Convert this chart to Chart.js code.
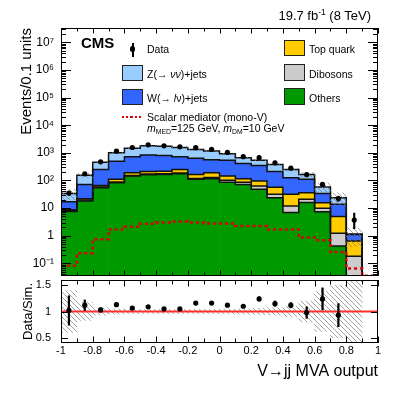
<!DOCTYPE html>
<html>
<head>
<meta charset="utf-8">
<script src="https://cdn.jsdelivr.net/npm/chart.js@4"></script>
<style>
  body { margin: 0; background: #fff; font-family: "Liberation Sans", Arial, sans-serif; }
  #wrap { position: relative; width: 407px; height: 395px; overflow: hidden; }
  canvas { position: absolute; left: 0; }
  .t { position: absolute; white-space: nowrap; font-size: 10.5px; line-height: 10.5px; color: #000; }
  .box { position: absolute; box-sizing: border-box; border: 1px solid #222; width: 21px; height: 16.5px; }
  sup, sub { font-size: 65%; line-height: 0; position: relative; vertical-align: baseline; }
  sup { top: -0.55em; }
  sub { top: 0.3em; }
</style>
</head>
<body>
<div id="wrap">
  <canvas id="main" width="407" height="280" style="top:0"></canvas>
  <canvas id="ratio" width="407" height="125" style="top:270px"></canvas>

  <div class="t" style="left:0;top:8.6px;width:371px;text-align:right;font-size:13px;line-height:13px;">19.7 fb<sup>-1</sup> (8 TeV)</div>
  <div class="t" style="left:81px;top:34.5px;font-size:15px;line-height:15px;font-weight:bold;">CMS</div>

  <!-- left legend column -->
  <div style="position:absolute;left:132px;top:42.5px;width:1.5px;height:14px;background:#000;"></div>
  <div style="position:absolute;left:130.2px;top:46.4px;width:5.2px;height:5.2px;border-radius:50%;background:#000;"></div>
  <div class="t" style="left:147px;top:43.9px;">Data</div>

  <div class="box" style="left:122px;top:64.8px;background:#99ccff;"></div>
  <div class="t" style="left:147px;top:68.9px;">Z(→ <i>νν</i>)+jets</div>

  <div class="box" style="left:122px;top:88.5px;background:#3366ff;"></div>
  <div class="t" style="left:147px;top:93.4px;">W(→ <i>l</i>ν)+jets</div>

  <div style="position:absolute;left:122px;top:116.2px;width:21px;height:2.2px;background:repeating-linear-gradient(90deg,#e00000 0 2.2px,transparent 2.2px 4.2px);"></div>
  <div class="t" style="left:147px;top:111.6px;">Scalar mediator (mono-V)</div>
  <div class="t" style="left:147px;top:122.6px;"><i>m</i><sub>MED</sub>=125 GeV, <i>m</i><sub>DM</sub>=10 GeV</div>

  <!-- right legend column -->
  <div class="box" style="left:284px;top:39.5px;background:#ffcc00;"></div>
  <div class="t" style="left:309px;top:43.9px;">Top quark</div>
  <div class="box" style="left:284px;top:64px;background:#cccccc;"></div>
  <div class="t" style="left:309px;top:68.9px;">Dibosons</div>
  <div class="box" style="left:284px;top:88.3px;background:#009900;"></div>
  <div class="t" style="left:309px;top:93.4px;">Others</div>
</div>

<script>
// bins of the MVA output
const binCenters = [-0.95, -0.85, -0.75, -0.65, -0.55, -0.45, -0.35, -0.25, -0.15, -0.05,
                    0.05, 0.15, 0.25, 0.35, 0.45, 0.55, 0.65, 0.75, 0.85, 0.95];
const binEdges = [-1, -0.9, -0.8, -0.7, -0.6, -0.5, -0.4, -0.3, -0.2, -0.1, 0,
                  0.1, 0.2, 0.3, 0.4, 0.5, 0.6, 0.7, 0.8, 0.9, 1];

// stacked backgrounds (events / 0.1 units), bottom to top
const others   = [7.5, 18, 55, 83, 145, 163, 166, 175, 110, 115, 87, 72, 48, 24, 7, 16, 7.4, 0.43, 0, 0];
const dibosons = [0.5, 1.5, 3, 5, 7, 9, 9, 10, 8, 13, 15, 15, 15, 8, 5, 5, 2.6, 0.8, 0.18, 0];
const topQuark = [0.8, 2.5, 8, 22, 38, 41, 43, 65, 47, 62, 43, 28, 32, 25, 20, 15, 5.8, 3.7, 0.47, 0];
const wJets    = [8.2, 50, 184, 390, 530, 622, 592, 480, 475, 370, 395, 295, 255, 153, 94, 74, 18, 8.9, 0.45, 0];
const zJets    = [17, 83, 210, 520, 750, 965, 910, 840, 690, 600, 390, 250, 190, 170, 124, 55, 24, 10, 0.05, 0];
const signal   = [0.082, 0.235, 0.75, 1.7, 2.1, 2.75, 3.0, 3.25, 3.0, 2.8, 2.8, 2.25, 2.25, 1.7, 1.7, 0.86, 0.69, 0.26, 0.066, 0.036];

// observed data
const dataVal   = [35, 174, 474, 1150, 1565, 1960, 1800, 1650, 1540, 1345, 1040, 726, 670, 437, 280, 162, 72, 22.3, 3.7, null];
const dataErrLo = [6, 13, 22, 34, 40, 44, 42, 41, 39, 37, 32, 27, 26, 21, 17, 13, 8.5, 4.7, 1.9, null];
const dataErrHi = [6, 13, 22, 34, 40, 44, 42, 41, 39, 37, 32, 27, 26, 21, 17, 13, 8.5, 4.7, 2.9, null];

// ratio panel
const ratioVal = [1.02, 1.12, 1.03, 1.13, 1.065, 1.09, 1.05, 1.05, 1.16, 1.16, 1.12, 1.10, 1.24, 1.15, 1.12, 0.98, 1.24, 0.93, null, null];
const ratioErr = [0.28, 0.1, 0.04, 0.03, 0.025, 0.025, 0.025, 0.025, 0.03, 0.03, 0.03, 0.03, 0.04, 0.05, 0.05, 0.11, 0.21, 0.22, null, null];
const mcUnc    = [0.40, 0.17, 0.07, 0.05, 0.04, 0.04, 0.04, 0.04, 0.04, 0.04, 0.045, 0.05, 0.06, 0.07, 0.10, 0.2, 0.38, 0.5, 0.65, null];

// tick labels
const yTickValues = [0.1, 1, 10, 100, 1e3, 1e4, 1e5, 1e6, 1e7];
const yTickLabels = ['10\u207B\u00B9', '1', '10', '10\u00B2', '10\u00B3', '10\u2074', '10\u2075', '10\u2076', '10\u2077'];
const xTickValues = [-1, -0.8, -0.6, -0.4, -0.2, 0, 0.2, 0.4, 0.6, 0.8, 1];
const xTickLabels = ['-1', '-0.8', '-0.6', '-0.4', '-0.2', '0', '0.2', '0.4', '0.6', '0.8', '1'];
const rTickValues = [0.5, 1, 1.5];
const rTickLabels = ['0.5', '1', '1.5'];

Chart.defaults.font.family = '"Liberation Sans", Arial, sans-serif';
Chart.defaults.color = '#000';

const FLOOR = 1e-3; // below the log axis minimum, stands in for zero
const stackColors = ['#009900', '#cccccc', '#ffcc00', '#3366ff', '#99ccff'];
const comps = [others, dibosons, topQuark, wJets, zJets];
const cum = [];
comps.forEach((c, k) => cum.push(c.map((v, i) => v + (k ? cum[k - 1][i] : 0))));
const total = cum[4];

function hatch(ctx) {
  const c = document.createElement('canvas');
  c.width = 5; c.height = 5;
  const g = c.getContext('2d');
  g.strokeStyle = '#7a7a7a';
  g.lineWidth = 0.7;
  g.beginPath();
  g.moveTo(0, 0); g.lineTo(5, 5);
  g.moveTo(-1, 4); g.lineTo(1, 6);
  g.moveTo(4, -1); g.lineTo(6, 1);
  g.stroke();
  return ctx.createPattern(c, 'repeat');
}

// frame with inward tick marks on all four sides (ROOT look)
function framePlugin(xTicks, yTicks) {
  return {
    id: 'frame',
    afterDraw(chart) {
      const { ctx, chartArea: a, scales: { x, y } } = chart;
      ctx.save();
      ctx.strokeStyle = '#000';
      ctx.lineWidth = 1;
      ctx.strokeRect(a.left + 0.5, a.top + 0.5, a.right - a.left - 1, a.bottom - a.top - 1);
      ctx.beginPath();
      xTicks.forEach(([v, len]) => {
        const px = Math.round(x.getPixelForValue(v)) + 0.5;
        ctx.moveTo(px, a.top); ctx.lineTo(px, a.top + len);
        ctx.moveTo(px, a.bottom); ctx.lineTo(px, a.bottom - len);
      });
      yTicks.forEach(([v, len]) => {
        const py = Math.round(y.getPixelForValue(v)) + 0.5;
        ctx.moveTo(a.left, py); ctx.lineTo(a.left + len, py);
        ctx.moveTo(a.right, py); ctx.lineTo(a.right - len, py);
      });
      ctx.stroke();
      ctx.restore();
    }
  };
}

// keep the axis boxes from reserving room for label overflow
function noPad(s) {
  s.paddingTop = 0; s.paddingBottom = 0; s.paddingLeft = 0; s.paddingRight = 0;
}

const xFrameTicks = [];
for (let i = 0; i <= 20; i++) xFrameTicks.push([-1 + i * 0.1, i % 2 ? 3.5 : 5.5]);
const yFrameTicks = [];
for (let n = -2; n <= 7; n++) {
  for (let k = 1; k <= 9; k++) {
    const v = k * Math.pow(10, n);
    if (v >= 0.035 && v <= 3.3e7) yFrameTicks.push([v, k === 1 ? 10 : 5]);
  }
}

// ---------- main panel ----------
const mainCtx = document.getElementById('main').getContext('2d');
const mainSets = [];
comps.forEach((c, k) => {
  mainSets.push({
    type: 'bar',
    data: binCenters.map((x, i) => ({ x, y: [Math.max(k ? cum[k - 1][i] : 0, FLOOR), Math.max(cum[k][i], FLOOR)] })),
    backgroundColor: stackColors[k],
    borderWidth: 0,
    barPercentage: 1.04,
    categoryPercentage: 1,
    grouped: false,
    order: 10,
    clip: 0
  });
  mainSets.push({
    type: 'line',
    data: binEdges.map((x, i) => ({ x, y: Math.max(cum[k][Math.min(i, 19)], FLOOR) })),
    borderColor: '#111',
    borderWidth: 1.5,
    stepped: true,
    pointRadius: 0,
    order: 5,
    clip: 0
  });
});
mainSets.push({
  type: 'bar',
  data: binCenters.map((x, i) => ({ x, y: mcUnc[i] == null ? null : [total[i] * (1 - mcUnc[i]), total[i] * (1 + mcUnc[i])] })),
  backgroundColor: hatch(mainCtx),
  borderWidth: 0,
  barPercentage: 1,
  categoryPercentage: 1,
  grouped: false,
  order: 4,
  clip: 0
});
mainSets.push({
  type: 'line',
  data: binEdges.map((x, i) => ({ x, y: signal[Math.min(i, 19)] })),
  borderColor: '#e00000',
  borderWidth: 2.5,
  borderDash: [3, 3],
  stepped: true,
  pointRadius: 0,
  order: 3,
  clip: 0
});
mainSets.push({
  type: 'bar',
  data: binCenters.map((x, i) => ({ x, y: dataVal[i] == null ? null : [dataVal[i] - dataErrLo[i], dataVal[i] + dataErrHi[i]] })),
  backgroundColor: '#000',
  barThickness: 1.5,
  grouped: false,
  order: 2,
  clip: 0
});
mainSets.push({
  type: 'scatter',
  data: binCenters.map((x, i) => ({ x, y: dataVal[i] })),
  pointRadius: 2.6,
  pointBackgroundColor: '#000',
  pointBorderWidth: 0,
  order: 1
});

new Chart(mainCtx, {
  type: 'bar',
  data: { datasets: mainSets },
  options: {
    responsive: false,
    animation: false,
    events: [],
    layout: { padding: { left: 0, right: 29, top: 28, bottom: 3 } },
    plugins: { legend: { display: false }, tooltip: { enabled: false } },
    scales: {
      x: { type: 'linear', min: -1, max: 1, offset: false, display: false },
      y: {
        type: 'logarithmic',
        min: 0.035,
        max: 3.3e7,
        grid: { display: false, drawTicks: false },
        border: { display: false },
        afterBuildTicks: s => { s.ticks = yTickValues.map(v => ({ value: v })); },
        afterFit: s => { s.width = 61; noPad(s); },
        ticks: { autoSkip: false, padding: 7, font: { size: 12 }, color: '#000', callback: (v, i) => yTickLabels[i] },
        title: { display: true, text: 'Events/0.1 units', align: 'end', font: { size: 15 }, color: '#000', padding: { top: 17.5, bottom: 0 } }
      }
    }
  },
  plugins: [framePlugin(xFrameTicks, yFrameTicks)]
});

// ---------- ratio panel ----------
const ratioCtx = document.getElementById('ratio').getContext('2d');
const rFrameTicks = rTickValues.map(v => [v, 7]);
const xRatioTicks = xFrameTicks.map(([v, len]) => [v, len + 1]);

new Chart(ratioCtx, {
  type: 'bar',
  data: {
    datasets: [
      {
        type: 'scatter',
        data: binCenters.map((x, i) => ({ x, y: ratioVal[i] })),
        pointRadius: 2.6,
        pointBackgroundColor: '#000',
        pointBorderWidth: 0,
        order: 1
      },
      {
        type: 'bar',
        data: binCenters.map((x, i) => ({ x, y: ratioVal[i] == null ? null : [ratioVal[i] - ratioErr[i], ratioVal[i] + ratioErr[i]] })),
        backgroundColor: '#000',
        barThickness: 1.6,
        grouped: false,
        order: 2,
        clip: 0
      },
      {
        type: 'line',
        data: [{ x: -1, y: 1 }, { x: 1, y: 1 }],
        borderColor: '#ff3030',
        borderWidth: 2,
        pointRadius: 0,
        order: 3,
        clip: 0
      },
      {
        type: 'bar',
        data: binCenters.map((x, i) => ({ x, y: mcUnc[i] == null ? null : [1 - mcUnc[i], 1 + mcUnc[i]] })),
        backgroundColor: hatch(ratioCtx),
        borderWidth: 0,
        barPercentage: 1,
        categoryPercentage: 1,
        grouped: false,
        order: 4,
        clip: 0
      }
    ]
  },
  options: {
    responsive: false,
    animation: false,
    events: [],
    layout: { padding: { left: 0, right: 29, top: 10, bottom: 0 } },
    plugins: { legend: { display: false }, tooltip: { enabled: false } },
    scales: {
      x: {
        type: 'linear', min: -1, max: 1, offset: false,
        grid: { display: false, drawTicks: false },
        border: { display: false },
        afterBuildTicks: s => { s.ticks = xTickValues.map(v => ({ value: v })); },
        afterFit: s => { s.height = 52; noPad(s); },
        ticks: { autoSkip: false, maxRotation: 0, padding: 1, font: { size: 11 }, color: '#000', callback: (v, i) => xTickLabels[i] },
        title: { display: true, text: 'V\u2192jj MVA output', align: 'end', font: { size: 16 }, color: '#000', padding: { top: 0, bottom: 14 } }
      },
      y: {
        type: 'linear', min: 0.4, max: 1.6, beginAtZero: false,
        grid: { display: false, drawTicks: false },
        border: { display: false },
        afterBuildTicks: s => { s.ticks = rTickValues.map(v => ({ value: v })); },
        afterFit: s => { s.width = 61; noPad(s); },
        ticks: { autoSkip: false, padding: 10, font: { size: 11 }, color: '#000', callback: (v, i) => rTickLabels[i] },
        title: { display: true, text: 'Data/Sim.', align: 'center', font: { size: 13 }, color: '#000', padding: { top: 21, bottom: 0 } }
      }
    }
  },
  plugins: [framePlugin(xRatioTicks, rFrameTicks)]
});
</script>
</body>
</html>
